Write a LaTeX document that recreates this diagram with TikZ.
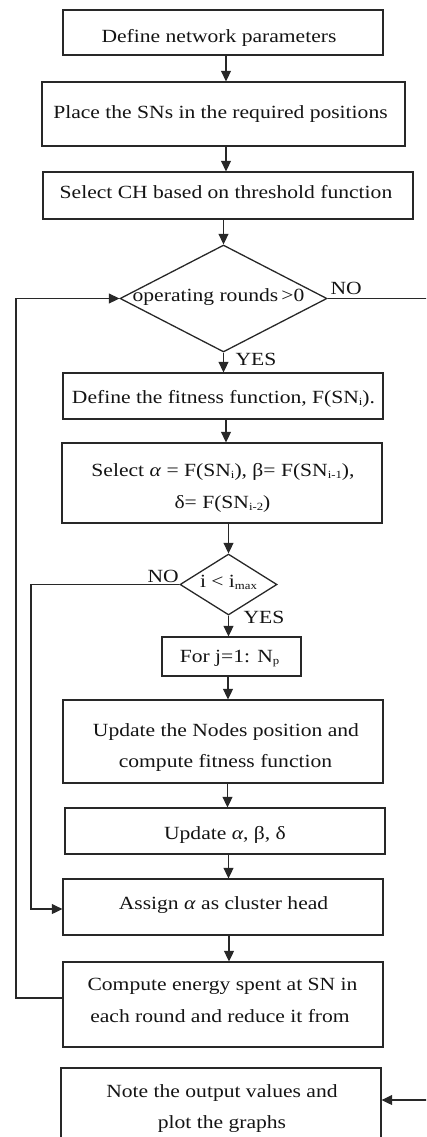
\documentclass[tikz,border=0pt]{standalone}
\usepackage{fontspec}
\setmainfont[FakeStretch=1.16]{Liberation Serif}
\usetikzlibrary{arrows.meta,shapes.geometric}
\newcommand\sbx[1]{\raisebox{-0.12em}{\fontsize{11}{11}\selectfont #1}}
\definecolor{lc}{RGB}{40,40,40}
\definecolor{tc}{RGB}{20,20,20}
\begin{document}
\begin{tikzpicture}[x=1pt,y=-1pt,line width=1.3pt,
  box/.style={draw=lc,rectangle,inner sep=0pt},
  dia/.style={draw=lc,diamond,inner sep=0pt},
  txt/.style={anchor=base,inner sep=0pt,font=\fontsize{18.6}{20}\selectfont,text=tc},
  lbl/.style={anchor=base west,inner sep=0pt,font=\fontsize{18.6}{20}\selectfont,text=tc},
  arr/.style={draw=lc,-{Triangle[length=10.5pt,width=10pt]}}]
\useasboundingbox (0,0) rectangle (426,1137);
\clip (0,0) rectangle (426,1137);
% boxes
\node[box,minimum width=320pt,minimum height=45pt] (b1) at (223,32.5) {};
\node[box,minimum width=363pt,minimum height=64pt] (b2) at (223.5,114) {};
\node[box,minimum width=370pt,minimum height=47pt] (b3) at (228,195.5) {};
\node[dia,minimum width=207pt,minimum height=107pt] (d1) at (223.5,298.5) {};
\node[box,minimum width=320pt,minimum height=46pt] (b4) at (223,396) {};
\node[box,minimum width=320pt,minimum height=80pt] (b5) at (222,483) {};
\node[dia,minimum width=97pt,minimum height=61pt] (d2) at (228.5,584.5) {};
\node[box,minimum width=139pt,minimum height=39pt] (b6) at (231.5,656.5) {};
\node[box,minimum width=320pt,minimum height=83pt] (b7) at (223,741.5) {};
\node[box,minimum width=320pt,minimum height=46pt] (b8) at (225,831) {};
\node[box,minimum width=320pt,minimum height=56pt] (b9) at (223,907) {};
\node[box,minimum width=320pt,minimum height=85pt] (b10) at (223,1004.5) {};
\node[box,minimum width=320pt,minimum height=82pt] (b11) at (221,1109) {};
% texts
\node[txt] (t1) at (219,43) {Define network parameters};
\node[txt] (t2) at (220.5,118) {Place the SNs in the required positions};
\node[txt] (t3) at (226,198) {Select CH based on threshold function};
\node[txt] (t4) at (218.5,301) {operating rounds\,>0};
\node[txt] (t5) at (223.5,403) {Define the fitness function, F(SN\sbx{i}).};
\node[txt] (t6a) at (223,476) {Select \textit{α} = F(SN\sbx{i}), β= F(SN\sbx{i-1}),};
\node[txt] (t6b) at (222.5,508) {δ= F(SN\sbx{i-2})};
\node[txt] (t7) at (228.5,587) {i < i\sbx{max}};
\node[txt] (t8) at (229.5,662) {For j=1: N\sbx{p}};
\node[txt] (t9a) at (226,736) {Update the Nodes position and};
\node[txt] (t9b) at (225.5,767) {compute fitness function};
\node[txt] (t10) at (225,839) {Update \textit{α}, β, δ};
\node[txt] (t11) at (223.5,909) {Assign \textit{α} as cluster head};
\node[txt] (t12a) at (222.5,990) {Compute energy spent at SN in};
\node[txt] (t12b) at (220,1022) {each round and reduce it from};
\node[txt] (t13a) at (222,1097) {Note the output values and};
\node[txt] (t13b) at (222,1128) {plot the graphs};
% labels
\node[lbl] (no1) at (330,294) {NO};
\node[lbl] (yes1) at (235,365) {YES};
\node[lbl] (no2) at (147,582) {NO};
\node[lbl] (yes2) at (243,623) {YES};
% arrows
\draw[arr] (226,0 |- b1.south) -- (226,0 |- b2.north);
\draw[arr] (226,0 |- b2.south) -- (226,0 |- b3.north);
\draw[arr] (d1.north |- b3.south) -- (d1.north);
\draw[arr] (d1.south) -- (d1.south |- b4.north);
\draw[arr] (226,0 |- b4.south) -- (226,0 |- b5.north);
\draw[arr] (d2.north |- b5.south) -- (d2.north);
\draw[arr] (d2.south) -- (d2.south |- b6.north);
\draw[arr] (228,0 |- b6.south) -- (228,0 |- b7.north);
\draw[arr] (227.5,0 |- b7.south) -- (227.5,0 |- b8.north);
\draw[arr] (228.5,0 |- b8.south) -- (228.5,0 |- b9.north);
\draw[arr] (229,0 |- b9.south) -- (229,0 |- b10.north);
% loops
\draw[arr] (b10.west |- 0,998) -- (16,998) -- (16,298.5) -- (d1.west);
\draw[arr] (d1.east) -- (434,298.5) -- (434,1100) -- (b11.east |- 0,1100);
\draw[arr] (d2.west) -- (31,584.5) -- (31,909) -- (b9.west |- 0,909);
\end{tikzpicture}
\end{document}
